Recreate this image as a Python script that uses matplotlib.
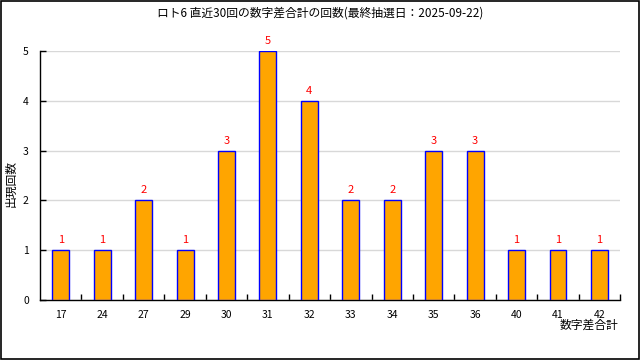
import matplotlib.pyplot as plt
import numpy as np
from matplotlib.patches import Rectangle

plt.rcParams['font.family'] = ['Noto Sans CJK JP', 'DejaVu Sans']

# 数字差合計ごとの出現回数
sums = ['17', '24', '27', '29', '30', '31', '32', '33', '34', '35', '36', '40', '41', '42']
counts = [1, 1, 2, 1, 3, 5, 4, 2, 2, 3, 3, 1, 1, 1]

fig = plt.figure(figsize=(6.4, 3.6), dpi=100)
ax = fig.add_axes([0.0625, 0.1667, 0.9065, 0.6917])

x = np.arange(len(sums))
ax.bar(x, counts, width=0.41, color='orange', edgecolor='blue', linewidth=1, zorder=3)
for xi, c in zip(x, counts):
    ax.text(xi, c + 0.1, str(c), color='red', ha='center', va='bottom', fontsize=8)

ax.set_xlim(-0.5, len(sums) - 0.5)
ax.set_ylim(0, 5)
ax.set_yticks(range(6))
ax.yaxis.grid(True, color='#d8d8d8', linewidth=1, zorder=0)
ax.set_xticks(x)
ax.set_xticklabels(sums, fontsize=7.5)
ax.set_xticks(x + 0.5, minor=True)
ax.tick_params(axis='x', which='major', length=0, pad=7)
ax.tick_params(axis='x', which='minor', direction='in', length=4, width=1)
ax.tick_params(axis='y', direction='in', length=4, width=1, labelsize=7.5, pad=8)
for s in ['top', 'right']:
    ax.spines[s].set_visible(False)
ax.spines['left'].set_linewidth(1)
ax.spines['bottom'].set_linewidth(1)

fig.text(0.5, 0.963, 'ロト6 直近30回の数字差合計の回数(最終抽選日：2025-09-22)',
         ha='center', va='center', fontsize=8.5)
fig.text(0.017, 0.49, '出現回数', rotation=90, ha='center', va='center', fontsize=8.5)
fig.text(0.966, 0.097, '数字差合計', ha='right', va='center', fontsize=8.5)

fig.add_artist(Rectangle((0.001, 0.002), 0.997, 0.995, transform=fig.transFigure,
                         fill=False, edgecolor='black', linewidth=1.2))

fig.savefig('out.png', dpi=100)
